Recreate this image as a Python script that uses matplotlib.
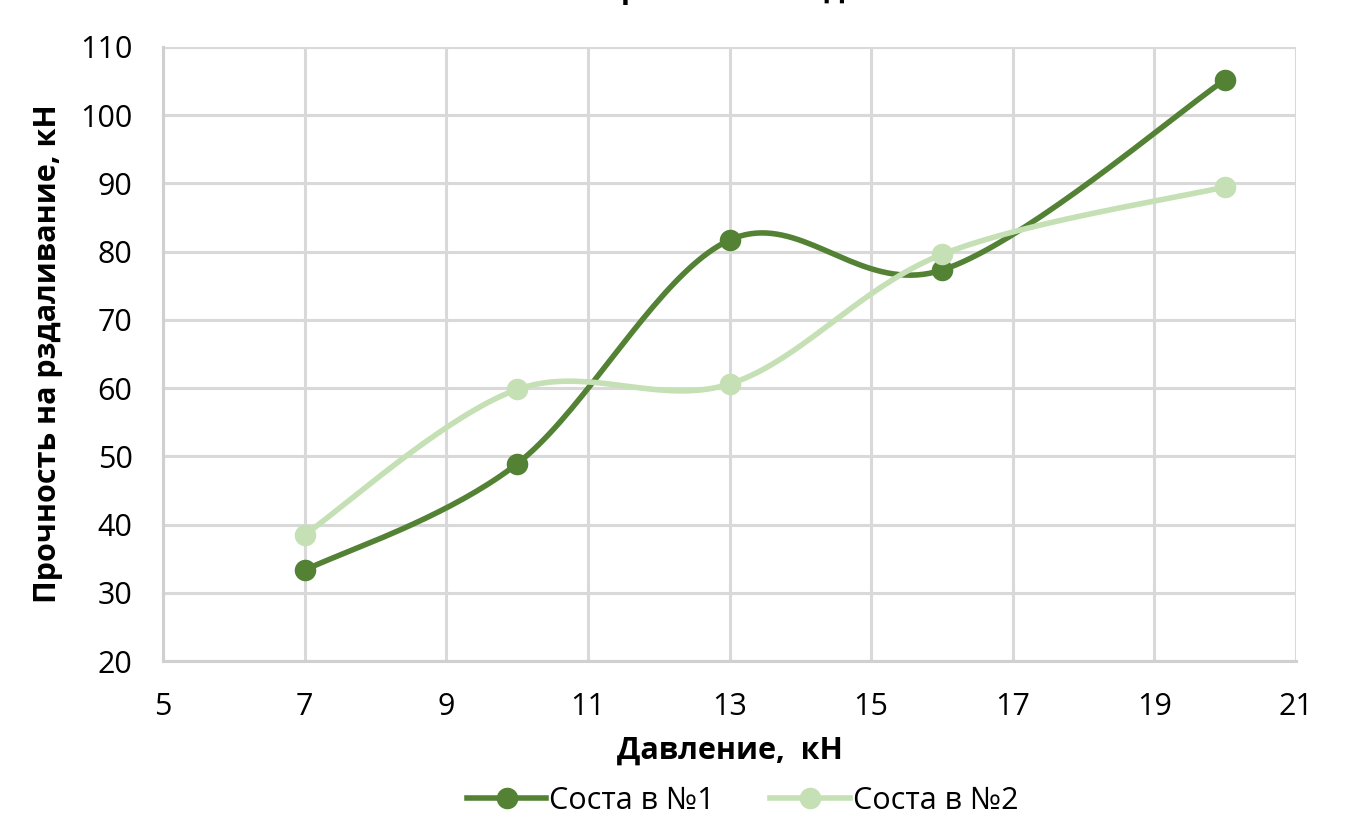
import numpy as np
import matplotlib.pyplot as plt

# data
pressure = [7, 10, 13, 16, 20]
sostav1 = [33.3, 48.9, 81.7, 77.3, 105.2]
sostav2 = [38.5, 59.8, 60.6, 79.6, 89.5]
series_names = ["Соста в №1", "Соста в №2"]
x_ticks = [5, 7, 9, 11, 13, 15, 17, 19, 21]
y_ticks = [20, 30, 40, 50, 60, 70, 80, 90, 100, 110]


def smooth_line(xs, ys, n=40):
    # Excel-style smoothed line: cubic Bezier between points,
    # control points from neighbouring points (tension 1/6)
    xs = np.asarray(xs, float)
    ys = np.asarray(ys, float)
    px = np.concatenate([[xs[0]], xs, [xs[-1]]])
    py = np.concatenate([[ys[0]], ys, [ys[-1]]])
    out_x, out_y = [], []
    t = np.linspace(0, 1, n)
    for i in range(1, len(px) - 2):
        p0x, p0y = px[i], py[i]
        p3x, p3y = px[i + 1], py[i + 1]
        c1x = p0x + (px[i + 1] - px[i - 1]) / 6
        c1y = p0y + (py[i + 1] - py[i - 1]) / 6
        c2x = p3x - (px[i + 2] - px[i]) / 6
        c2y = p3y - (py[i + 2] - py[i]) / 6
        bx = (1 - t) ** 3 * p0x + 3 * (1 - t) ** 2 * t * c1x + 3 * (1 - t) * t ** 2 * c2x + t ** 3 * p3x
        by = (1 - t) ** 3 * p0y + 3 * (1 - t) ** 2 * t * c1y + 3 * (1 - t) * t ** 2 * c2y + t ** 3 * p3y
        out_x.extend(bx)
        out_y.extend(by)
    return np.array(out_x), np.array(out_y)


plt.rcParams['font.family'] = ['Open Sans', 'DejaVu Sans']

fig = plt.figure(figsize=(13.6, 8.3), dpi=100)
ax = fig.add_axes([163 / 1360, 1 - 661 / 830, (1296 - 163) / 1360, (661 - 47) / 830])

colors = ['#548235', '#c5e0b4']
handles = []
for ys, col, name in zip([sostav1, sostav2], colors, series_names):
    sx, sy = smooth_line(pressure, ys)
    ax.plot(sx, sy, color=col, lw=4, solid_capstyle='round', zorder=3)
    ax.plot(pressure, ys, 'o', color=col, ms=14.5, zorder=4)
    h, = ax.plot([], [], '-o', color=col, lw=4, ms=14.5, label=name)
    handles.append(h)

ax.set_xlim(5, 21)
ax.set_ylim(20, 110)
ax.set_xticks(x_ticks)
ax.set_yticks(y_ticks)
ax.grid(True, color='#d9d9d9', lw=2.2, zorder=0)
ax.set_axisbelow(True)
for s in ['top', 'right']:
    ax.spines[s].set_visible(False)
for s in ['left', 'bottom']:
    ax.spines[s].set_color('#d0d0d0')
    ax.spines[s].set_linewidth(2.2)
ax.tick_params(axis='y', length=0, labelsize=22, pad=22, colors='black')
ax.tick_params(axis='x', length=0, labelsize=22, pad=22, colors='black')

ax.set_xlabel('Давление,  кН', fontsize=22, fontweight='bold', labelpad=10)
ax.set_ylabel('Прочность на рздаливание, кН', fontsize=22, fontweight='bold', labelpad=12)

fig.text(0.5, 1.012, 'Зависимость прочности от давления', ha='center', va='center',
         fontsize=22, fontweight='bold')

fig.legend(handles=handles, loc='center', bbox_to_anchor=(0.546, 1 - 801 / 830), ncol=2,
           frameon=False, fontsize=22, handlelength=2.6, columnspacing=1.8, handletextpad=0.1)

fig.savefig('out.png', dpi=100)
